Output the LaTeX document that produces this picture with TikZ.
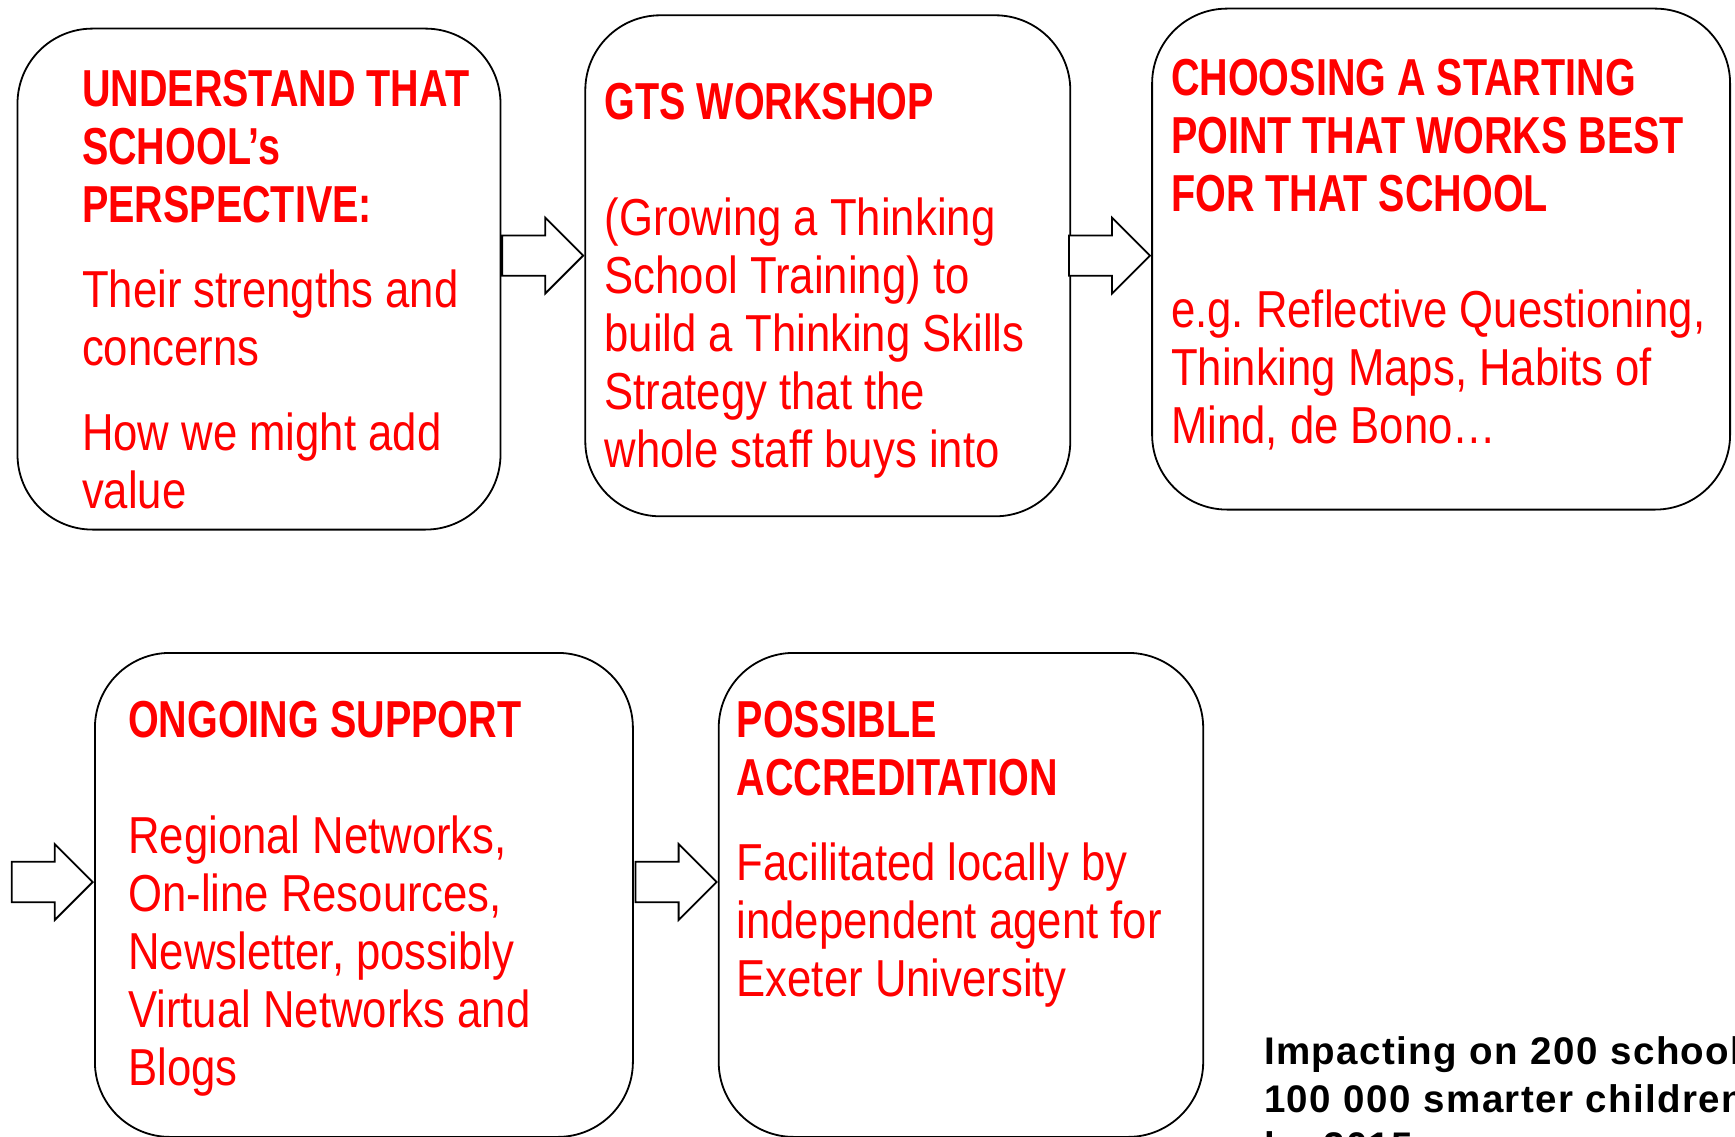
\documentclass[tikz,border=0pt]{standalone}
\usepackage{fontspec}
\setmainfont{Liberation Sans}
\newfontfamily\bodyfont[FakeStretch=0.84]{Liberation Sans}
\newfontfamily\headfont[FakeStretch=0.76]{Liberation Sans Bold}
\newfontfamily\notefont[LetterSpace=3.5]{Liberation Sans Bold}
\usepackage{tikz}
\usetikzlibrary{calc}
\usetikzlibrary{positioning}
\usetikzlibrary{shapes.arrows}
\frenchspacing

\begin{document}
\begin{tikzpicture}
[
	x = 1pt, y = -1pt,
	stage/.style = {rectangle, draw, line width = 1.8pt, rounded corners = 75pt, inner sep = 0pt, minimum height = 501pt},
	stagetext/.style = {anchor = base west, inner sep = 0pt, text width = 600pt, align = flush left, text = red, font = \bodyfont\fontsize{52}{58}\selectfont},
	blockarrow/.style = {single arrow, draw, fill = white, line width = 1.8pt, inner xsep = 0pt, inner ysep = 19.3pt, minimum height = 81pt, single arrow head extend = 17.7pt, anchor = tip},
	note/.style = {anchor = base west, inner sep = 0pt, text width = 700pt, align = left, font = \notefont\fontsize{38.5}{47.6}\selectfont},
]

	\clip (0,0) rectangle (1735,1137);

	% top row
	\node (box1) [stage, minimum width = 483pt, anchor = north west] at (16.6,27.7) {};
	\node (box2) [stage, minimum width = 485pt, right = 83pt of box1.north east, anchor = north west, yshift = 13.3pt] {};
	\node (box3) [stage, minimum width = 578pt, right = 80pt of box2.north east, anchor = north west, yshift = 6.7pt] {};
	% bottom row
	\node (box4) [stage, minimum width = 538pt, minimum height = 484pt, anchor = north west] at (94,652) {};
	\node (box5) [stage, minimum width = 484.5pt, minimum height = 484pt, right = 84pt of box4.north east, anchor = north west] {};

	% texts
	\node (txt1) [stagetext] at ($(box1.north west)+(65.3,79.3)$)
	{{\headfont UNDERSTAND THAT\\ SCHOOL’s\\ PERSPECTIVE:}\\[27pt]
	Their strengths and\\ concerns\\[27pt]
	How we might add\\ value};
	\node (txt2) [stagetext] at ($(box2.north west)+(20,105.6)$)
	{{\headfont GTS WORKSHOP}\\[58pt]
	(Growing a Thinking\\ School Training) to\\ build a Thinking Skills\\ Strategy that the\\ whole staff buys into};
	\node (txt3) [stagetext] at ($(box3.north west)+(19.7,88.3)$)
	{{\headfont CHOOSING A STARTING\\ POINT THAT WORKS BEST\\ FOR THAT SCHOOL}\\[58pt]
	e.g. Reflective Questioning,\\ Thinking Maps, Habits of\\ Mind, de Bono…};
	\node (txt4) [stagetext] at ($(box4.north west)+(34,85.6)$)
	{{\headfont ONGOING SUPPORT}\\[58pt]
	Regional Networks,\\ On-line Resources,\\ Newsletter, possibly\\ Virtual Networks and\\ Blogs};
	\node (txt5) [stagetext] at ($(box5.north west)+(18.7,85.6)$)
	{{\headfont POSSIBLE\\ ACCREDITATION}\\[27pt]
	Facilitated locally by\\ independent agent for\\ Exeter University};

	% arrows
	\node (arr12) [blockarrow] at (box2.west |- 0,255.6) {};
	\node (arr23) [blockarrow] at (box3.west |- 0,255.6) {};
	\node (arr04) [blockarrow] at (box4.west |- 0,882) {};
	\node (arr45) [blockarrow] at (box5.west |- 0,882) {};

	\node (impact) [note] at (1264,1064.5)
	{Impacting on 200 schools\\ 100 000 smarter children\\ by 2015};

\end{tikzpicture}
\end{document}
